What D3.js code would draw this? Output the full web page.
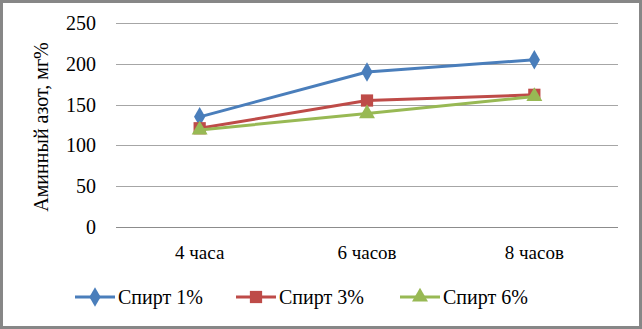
<!DOCTYPE html>
<html>
<head>
<meta charset="utf-8">
<script src="https://cdn.jsdelivr.net/npm/d3@7"></script>
<style>
  body { margin: 0; background: #fff; }
  svg { display: block; }
</style>
</head>
<body>
<div id="chart"></div>
<script>
const categories = ["4 часа", "6 часов", "8 часов"];
const seriesNames = ["Спирт 1%", "Спирт 3%", "Спирт 6%"];
const spirt1 = [135, 190, 205];
const spirt3 = [121, 155, 162];
const spirt6 = [119, 139, 160];
const yTicks = [0, 50, 100, 150, 200, 250];

const width = 642, height = 329;
const margin = {top: 23, right: 24, bottom: 102, left: 116};
const colors = ["#4a7ebb", "#be4b48", "#98b954"];
const symbols = [d3.symbolDiamond, d3.symbolSquare, d3.symbolTriangle];
const symSizes = [110, 150, 110];
const font = "Liberation Serif";

const svg = d3.select("#chart").append("svg")
    .attr("width", width).attr("height", height)
    .attr("font-family", font);

// рамка
svg.append("rect").attr("x", 1.5).attr("y", 1.5)
   .attr("width", width - 3).attr("height", height - 3)
   .attr("fill", "#fff").attr("stroke", "#878787").attr("stroke-width", 3);

const x = d3.scalePoint().domain(categories)
    .range([margin.left, width - margin.right]).padding(0.5);
const y = d3.scaleLinear().domain([0, 250])
    .range([height - margin.bottom, margin.top]);

// сетка
svg.append("g").selectAll("line").data(yTicks).join("line")
   .attr("x1", margin.left).attr("x2", width - margin.right)
   .attr("y1", d => Math.round(y(d)) + 0.5).attr("y2", d => Math.round(y(d)) + 0.5)
   .attr("stroke", d => d === 0 ? "#8c8c8c" : "#a6a6a6").attr("stroke-width", 1);

// подписи оси Y
svg.append("g").selectAll("text").data(yTicks).join("text")
   .attr("x", 96).attr("y", d => y(d)).attr("dy", "0.35em")
   .attr("text-anchor", "end")
   .attr("font-family", font).attr("font-size", 20).attr("fill", "#000")
   .text(d => d);

// подписи категорий
svg.append("g").selectAll("text").data(categories).join("text")
   .attr("x", d => x(d)).attr("y", 259)
   .attr("text-anchor", "middle")
   .attr("font-family", font).attr("font-size", 19).attr("fill", "#000")
   .text(d => d);

// название оси
svg.append("text")
   .attr("transform", `translate(48,${(margin.top + height - margin.bottom) / 2 + 2}) rotate(-90)`)
   .attr("text-anchor", "middle")
   .attr("font-family", font).attr("font-size", 20).attr("fill", "#000")
   .text("Аминный азот, мг%");

const series = [spirt1, spirt3, spirt6].map((vals, i) => ({
    name: seriesNames[i],
    values: vals.map((v, j) => ({cat: categories[j], v}))
}));

const line = d3.line().x(d => x(d.cat)).y(d => y(d.v));

series.forEach((s, i) => {
    svg.append("path").datum(s.values)
       .attr("fill", "none").attr("stroke", colors[i]).attr("stroke-width", 3)
       .attr("stroke-linejoin", "round").attr("d", line);
    svg.append("g").selectAll("path").data(s.values).join("path")
       .attr("transform", d => `translate(${x(d.cat)},${y(d.v)})`)
       .attr("d", d3.symbol().type(symbols[i]).size(symSizes[i]))
       .attr("fill", colors[i]);
});

// легенда
const legendX = [75, 236, 400];
const lg = svg.append("g").selectAll("g").data(series).join("g")
   .attr("transform", (d, i) => `translate(${legendX[i]},297)`);
lg.append("line").attr("x1", 0).attr("x2", 40).attr("y1", 0).attr("y2", 0)
  .attr("stroke", (d, i) => colors[i]).attr("stroke-width", 3);
lg.append("path").attr("transform", "translate(20,0)")
  .attr("d", (d, i) => d3.symbol().type(symbols[i]).size(symSizes[i])())
  .attr("fill", (d, i) => colors[i]);
lg.append("text").attr("x", 43).attr("y", 0).attr("dy", "0.35em")
  .attr("font-family", font).attr("font-size", 20).attr("fill", "#000")
  .text(d => d.name);
</script>
</body>
</html>
